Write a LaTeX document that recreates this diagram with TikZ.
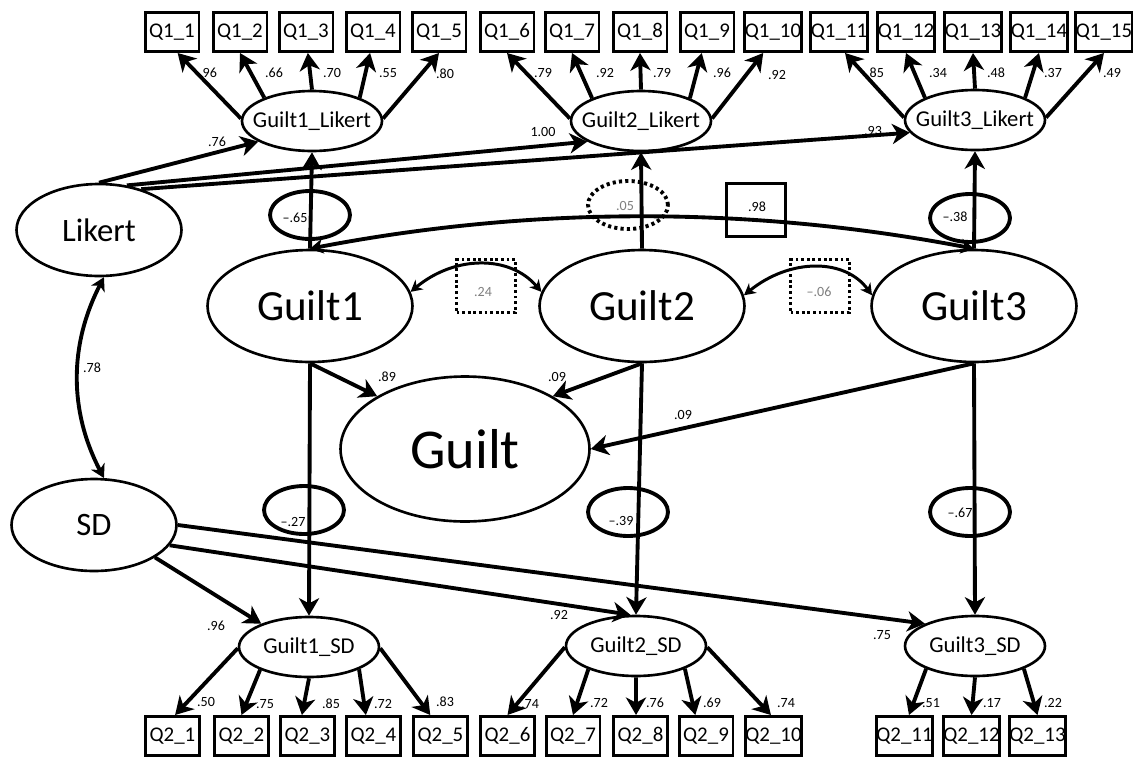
\documentclass[tikz,border=0pt]{standalone}
\usepackage{fontspec}
\setmainfont{Carlito}
\usetikzlibrary{arrows.meta,shapes.geometric}
% text of fixed-size ellipses is set in a zero-width box so the shape keeps its size
\newcommand\slim[1]{\makebox[0pt]{#1}}
\definecolor{numgray}{HTML}{7F7F7F}
\begin{document}
\begin{tikzpicture}[x=0.02cm,y=-0.02cm,
  qbox/.style={draw,rectangle,line width=1.7pt,minimum width=1.08cm,minimum height=0.78cm,inner sep=0pt,font=\fontsize{11.9}{13}\selectfont},
  fac/.style={draw,ellipse,line width=1.5pt,inner sep=0pt,minimum width=2.8cm,minimum height=1.2cm,font=\fontsize{12.9}{14}\selectfont},
  meth/.style={draw,ellipse,line width=1.5pt,inner sep=0pt,minimum width=3.3cm,minimum height=1.84cm,font=\fontsize{18.6}{20}\selectfont},
  mid/.style={draw,ellipse,line width=1.5pt,inner sep=0pt,minimum width=4.1cm,minimum height=2.24cm,font=\fontsize{24.5}{26}\selectfont},
  big/.style={draw,ellipse,line width=1.5pt,inner sep=0pt,minimum width=4.98cm,minimum height=2.9cm,font=\fontsize{32}{34}\selectfont},
  res/.style={draw,ellipse,line width=2.2pt,inner sep=0pt,minimum width=1.6cm,minimum height=0.96cm},
  resdot/.style={res,dash pattern=on 1.8pt off 1.8pt},
  covbox/.style={draw,rectangle,line width=1.7pt,inner sep=0pt,minimum width=1.18cm,minimum height=1.06cm},
  covdot/.style={covbox,line width=2pt,dash pattern=on 1.6pt off 1.6pt},
  arr/.style={line width=2.2pt,-{Stealth[length=10pt,width=11.5pt,inset=3pt]}},
  cov/.style={line width=1.7pt,{Stealth[length=6.5pt,width=7pt,inset=2pt]}-{Stealth[length=6.5pt,width=7pt,inset=2pt]}},
  covthick/.style={line width=2.2pt,{Stealth[length=7.5pt,width=8.5pt,inset=2.2pt]}-{Stealth[length=7.5pt,width=8.5pt,inset=2.2pt]}},
  num/.style={inner sep=0pt,font=\fontsize{8}{9}\selectfont},
  numg/.style={num,text=numgray}
]
\fill[white] (0,0) rectangle (1133,758);
\useasboundingbox (0,0) rectangle (1133,758);

% indicator boxes
\foreach \i/\x in {1/172,2/240,3/306,4/373,5/439,6/507,7/572,8/640,9/707,10/773,11/839,12/906,13/973,14/1039,15/1104}
  \node[qbox] (q1-\i) at (\x,32) {Q1\_\i};
\foreach \i/\x in {1/172.5,2/241.5,3/307.5,4/373.5,5/440.5,6/507.5,7/573,8/640.5,9/706,10/773.5,11/904.5,12/971.5,13/1037.5}
  \node[qbox] (q2-\i) at (\x,736) {Q2\_\i};

% first-order factors
\node[fac] (g1l) at (312,121) {\slim{Guilt1\_Likert}};
\node[fac] (g2l) at (641,121) {\slim{Guilt2\_Likert}};
\node[fac] (g3l) at (975,120) {\slim{Guilt3\_Likert}};
\node[fac] (g1s) at (309,647) {\slim{Guilt1\_SD}};
\node[fac] (g2s) at (636,646) {\slim{Guilt2\_SD}};
\node[fac] (g3s) at (975,646) {\slim{Guilt3\_SD}};

% method factors
\node[meth] (likert) at (99,230) {\slim{Likert}};
\node[meth] (sd) at (94,525) {\slim{SD}};

% occasion factors and general factor
\node[mid] (g1) at (310,306) {\slim{Guilt1}};
\node[mid] (g2) at (642,306) {\slim{Guilt2}};
\node[mid] (g3) at (974,306) {\slim{Guilt3}};
\node[big] (guilt) at (465,449) {\slim{Guilt}};

% residual correlation ellipses and boxes
\node[res] (r1l) at (310,215) {};
\node[resdot] (r2l) at (628,205) {};
\node[res] (r3l) at (970,218) {};
\node[res] (r1s) at (304,510) {};
\node[res] (r2s) at (628,512) {};
\node[res] (r3s) at (970,512) {};
\node[covdot] (c12) at (486,286) {};
\node[covdot] (c23) at (820,286) {};
\node[covbox] (c13) at (756,210) {};

% loadings on the Likert indicators
\draw[arr] (g1l.178) -- (q1-1.-75);
\draw[arr] (g1l.154) -- (q1-2.south);
\draw[arr] (g1l.north) -- (q1-3.-85);
\draw[arr] (g1l.26) -- (q1-4.-98);
\draw[arr] (g1l.2) -- (q1-5.south);
\draw[arr] (g2l.178) -- (q1-6.south);
\draw[arr] (g2l.155) -- (q1-7.south);
\draw[arr] (g2l.north) -- (q1-8.south);
\draw[arr] (g2l.25) -- (q1-9.-104);
\draw[arr] (g2l.2) -- (q1-10.-115);
\draw[arr] (g3l.178) -- (q1-11.-74);
\draw[arr] (g3l.156) -- (q1-12.south);
\draw[arr] (g3l.north) -- (q1-13.south);
\draw[arr] (g3l.24) -- (q1-14.south);
\draw[arr] (g3l.2) -- (q1-15.south);

% loadings on the SD indicators
\draw[arr] (g1s.181) -- (q2-1.83);
\draw[arr] (g1s.205) -- (q2-2.north);
\draw[arr] (g1s.south) -- (q2-3.105);
\draw[arr] (g1s.-24) -- (q2-4.110);
\draw[arr] (g1s.-1) -- (q2-5.116);
\draw[arr] (g2s.181) -- (q2-6.north);
\draw[arr] (g2s.206) -- (q2-7.north);
\draw[arr] (g2s.south) -- (q2-8.102);
\draw[arr] (g2s.-25) -- (q2-9.117);
\draw[arr] (g2s.-1) -- (q2-10.97);
\draw[arr] (g3s.205) -- (q2-11.78);
\draw[arr] (g3s.south) -- (q2-12.north);
\draw[arr] (g3s.-25) -- (q2-13.north);

% occasion factors to their method-specific factors
\draw[arr] (g1.north) -- (g1l.south);
\draw[arr] (g2.north) -- (g2l.south);
\draw[arr] (g3.north) -- (g3l.south);
\draw[arr] (g1.south) -- (g1s.north);
\draw[arr] (g2.south) -- (g2s.north);
\draw[arr] (g3.south) -- (g3s.north);

% occasion factors to the general factor
\draw[arr] (g1.south) -- (guilt.149);
\draw[arr] (g2.south) -- (guilt.31);
\draw[arr] (g3.south) -- (guilt.east);

% method factors
\draw[arr] (likert.north) -- (g1l.201);
\draw[arr] (likert.58) -- (g2l.201);
\draw[arr] (likert.44) -- (g3l.191);
\draw[arr] (sd.-28) -- (g1s.154);
\draw[arr] (sd.-15) -- (g2s.100);
\draw[arr] (sd.east) -- (g3s.156);

% covariances
\draw[covthick] (likert.-84) .. controls (69,345) and (69,411) .. (sd.78);
\draw[cov] (g1.8) .. controls (455,255) and (510,255) .. (g2.172);
\draw[cov] (g2.6) .. controls (790,258) and (845,258) .. (g3.174);
\draw[covthick] (g1.north) .. controls (532,206) and (752,206) .. (g3.north);

% estimates
\node[num] (e1) at (208,73) {.96};
\node[num] (e2) at (274,73) {.66};
\node[num] (e3) at (332,73) {.70};
\node[num] (e4) at (388,73) {.55};
\node[num] (e5) at (445,74) {.80};
\node[num] (e6) at (543,73) {.79};
\node[num] (e7) at (605,73) {.92};
\node[num] (e8) at (662,73) {.79};
\node[num] (e9) at (722,73) {.96};
\node[num] (e10) at (777,75) {.92};
\node[num] (e11) at (875,73) {.85};
\node[num] (e12) at (938,73) {.34};
\node[num] (e13) at (996,73) {.48};
\node[num] (e14) at (1053,73) {.37};
\node[num] (e15) at (1112,73) {.49};

\node[num] (m1) at (217,142) {.76};
\node[num] (m2) at (543,132) {1.00};
\node[num] (m3) at (873,131) {.93};

\node[num] (v1) at (295,218) {\textendash.65};
\node[numg] (v2) at (625,206) {.05};
\node[num] (v3) at (757,207) {.98};
\node[num] (v4) at (955,217) {\textendash.38};
\node[numg] (v5) at (483,292) {.24};
\node[numg] (v6) at (819,292) {\textendash.06};
\node[num] (v7) at (92,368) {.78};

\node[num] (h1) at (387,377) {.89};
\node[num] (h2) at (557,377) {.09};
\node[num] (h3) at (683,415) {.09};

\node[num] (w1) at (293,522) {\textendash.27};
\node[num] (w2) at (621,521) {\textendash.39};
\node[num] (w3) at (960,513) {\textendash.67};

\node[num] (s1) at (216,626) {.96};
\node[num] (s2) at (559,615) {.92};
\node[num] (s3) at (882,635) {.75};

\node[num] (f1) at (206,702) {.50};
\node[num] (f2) at (265,704) {.75};
\node[num] (f3) at (331,704) {.85};
\node[num] (f4) at (383,704) {.72};
\node[num] (f5) at (445,702) {.83};
\node[num] (f6) at (530,704) {.74};
\node[num] (f7) at (599,703) {.72};
\node[num] (f8) at (655,703) {.76};
\node[num] (f9) at (712,703) {.69};
\node[num] (f10) at (786,703) {.74};
\node[num] (f11) at (931,703) {.51};
\node[num] (f12) at (992,703) {.17};
\node[num] (f13) at (1053,703) {.22};
\end{tikzpicture}
\end{document}
